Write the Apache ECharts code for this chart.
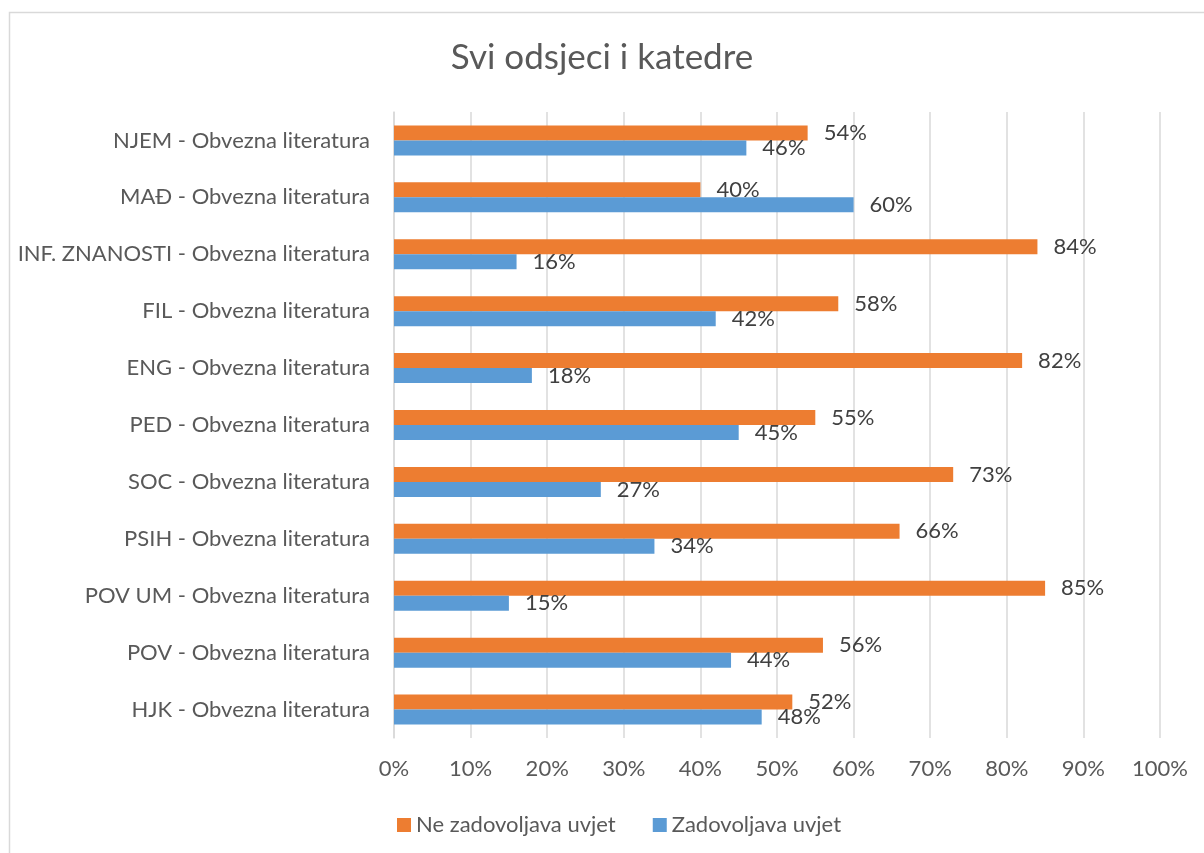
<!DOCTYPE html>
<html>
<head>
<meta charset="utf-8">
<title>Svi odsjeci i katedre</title>
<script src="https://cdn.jsdelivr.net/npm/echarts@6/dist/echarts.min.js"></script>
<style>
  html, body { margin: 0; padding: 0; background: #fff; }
  #chart { width: 1204px; height: 853px; }
</style>
</head>
<body>
<div id="chart"></div>
<script>
// kategorije, odozdo prema gore
var categories = [
    'HJK - Obvezna literatura',
    'POV - Obvezna literatura',
    'POV UM - Obvezna literatura',
    'PSIH - Obvezna literatura',
    'SOC - Obvezna literatura',
    'PED - Obvezna literatura',
    'ENG - Obvezna literatura',
    'FIL - Obvezna literatura',
    'INF. ZNANOSTI - Obvezna literatura',
    'MAĐ - Obvezna literatura',
    'NJEM - Obvezna literatura'
];
var zadovoljava = [48, 44, 15, 34, 27, 45, 18, 42, 16, 60, 46];
var neZadovoljava = [52, 56, 85, 66, 73, 55, 82, 58, 84, 40, 54];
var xTicks = [0, 10, 20, 30, 40, 50, 60, 70, 80, 90, 100];

var FONT = 'Lato';
var TEXT = '#595959';

var option = {
    animation: false,
    textStyle: { fontFamily: FONT },
    title: {
        text: 'Svi odsjeci i katedre',
        left: 'center',
        top: 35,
        textStyle: { color: TEXT, fontSize: 35, fontWeight: 'normal', fontFamily: FONT }
    },
    graphic: [{
        type: 'rect',
        silent: true,
        shape: { x: 9.5, y: 12.5, width: 1300, height: 900 },
        style: { fill: 'none', stroke: '#d9d9d9', lineWidth: 1.5 }
    }],
    legend: {
        data: ['Ne zadovoljava uvjet', 'Zadovoljava uvjet'],
        left: 392,
        top: 809,
        itemWidth: 14,
        itemHeight: 14,
        itemGap: 37,
        icon: 'rect',
        textStyle: { color: TEXT, fontSize: 22, fontFamily: FONT }
    },
    grid: {
        left: 394,
        right: 44,
        top: 112,
        bottom: 115,
        containLabel: false
    },
    xAxis: {
        type: 'value',
        min: 0,
        max: 100,
        interval: 10,
        axisLine: { show: false },
        axisTick: { show: false },
        splitLine: { lineStyle: { color: '#d9d9d9', width: 1.5 } },
        axisLabel: {
            color: TEXT,
            fontSize: 22,
            margin: 20,
            formatter: function (v) {
                return xTicks.indexOf(v) >= 0 ? v + '%' : '';
            }
        }
    },
    yAxis: {
        type: 'category',
        data: categories,
        axisLine: { show: true, lineStyle: { color: '#d9d9d9', width: 1.5 } },
        axisTick: { show: false },
        axisLabel: { color: TEXT, fontSize: 22, margin: 24 }
    },
    series: [
        {
            name: 'Ne zadovoljava uvjet',
            type: 'bar',
            data: neZadovoljava,
            barWidth: 15,
            barGap: '0%',
            itemStyle: { color: '#ED7D31' },
            label: {
                show: true,
                position: 'right',
                distance: 16,
                color: '#404040',
                fontSize: 22,
                fontFamily: FONT,
                formatter: '{c}%'
            }
        },
        {
            name: 'Zadovoljava uvjet',
            type: 'bar',
            data: zadovoljava,
            barWidth: 15,
            barGap: '0%',
            itemStyle: { color: '#5B9BD5' },
            label: {
                show: true,
                position: 'right',
                distance: 16,
                color: '#404040',
                fontSize: 22,
                fontFamily: FONT,
                formatter: '{c}%'
            }
        }
    ]
};

var echart = echarts.init(document.getElementById('chart'));
echart.setOption(option);
</script>
</body>
</html>
